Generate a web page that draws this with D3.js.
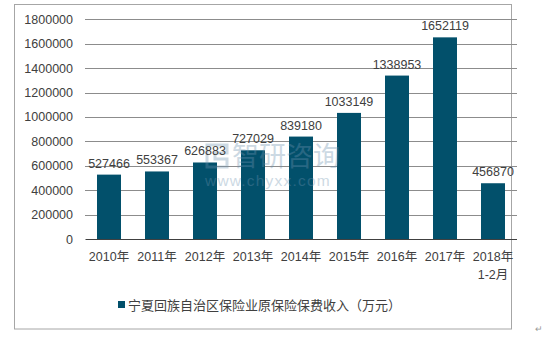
<!DOCTYPE html>
<html>
<head>
<meta charset="utf-8">
<script src="https://cdn.jsdelivr.net/npm/d3@7"></script>
<style>
html,body{margin:0;padding:0;background:#fff;}
svg{display:block;}
text{font-family:"Liberation Sans",Arial,"Noto Sans CJK SC",sans-serif;}
</style>
</head>
<body>
<script>
const categories = ["2010年","2011年","2012年","2013年","2014年","2015年","2016年","2017年","2018年\n1-2月"];
const values = [527466, 553367, 626883, 727029, 839180, 1033149, 1338953, 1652119, 456870];
const yTicks = [0,200000,400000,600000,800000,1000000,1200000,1400000,1600000,1800000];
const seriesName = "宁夏回族自治区保险业原保险保费收入（万元）";

const W = 548, H = 337;
const svg = d3.select("body").append("svg").attr("width", W).attr("height", H);

// frame
svg.append("rect").attr("x",14.5).attr("y",4.5).attr("width",497).attr("height",324.5)
  .attr("fill","none").attr("stroke","#a6a6a6").attr("stroke-width",1);

const x = d3.scaleBand().domain(categories).range([85,517]).paddingInner(0.5).paddingOuter(0.25);
const y = d3.scaleLinear().domain([0,1800000]).range([239,19.3]);

// gridlines
svg.append("g").selectAll("line").data(yTicks.filter(d=>d>0)).join("line")
  .attr("x1",85).attr("x2",517)
  .attr("y1",d=>Math.round(y(d))+0.5).attr("y2",d=>Math.round(y(d))+0.5)
  .attr("stroke","#8c8c8c").attr("stroke-width",1);

// y axis labels
const yAxis = d3.axisLeft(y).tickValues(yTicks).tickSize(0).tickPadding(12).tickFormat(d=>String(d));
const gy = svg.append("g").attr("transform","translate(85,0)").call(yAxis);
gy.select(".domain").remove();
gy.selectAll("text").attr("font-size","12.5px").attr("fill","#404040")
  .style("font-family",'"Liberation Sans",Arial,sans-serif');

// bars
svg.append("g").selectAll("rect").data(values).join("rect")
  .attr("x",(d,i)=>x(categories[i]))
  .attr("width",x.bandwidth())
  .attr("y",d=>y(d))
  .attr("height",d=>y(0)-y(d))
  .attr("fill","#02506b");

// watermark
const wm = svg.append("g").attr("opacity",0.35);
wm.append("path").attr("d","M207,145h20v8h-12v6h12v8h-20z").attr("fill","none")
  .attr("stroke","#6f93b0").attr("stroke-width",3);
wm.append("text").attr("x",232).attr("y",166).attr("font-size","27px").attr("fill","#6f93b0")
  .style("font-family",'"Noto Sans CJK SC",sans-serif').text("智研咨询");
wm.append("text").attr("x",205).attr("y",186).attr("font-size","15.5px").attr("fill","#6f93b0")
  .attr("letter-spacing","1.2px").text("www.chyxx.com");

// value labels
svg.append("g").selectAll("text").data(values).join("text")
  .attr("x",(d,i)=>x(categories[i])+x.bandwidth()/2)
  .attr("y",d=>y(d)-7)
  .attr("text-anchor","middle").attr("font-size","12.5px").attr("fill","#404040")
  .text(d=>d);

// x axis
const xAxis = d3.axisBottom(x).tickSize(0).tickPadding(0).tickFormat("");
const gx = svg.append("g").attr("transform","translate(0,239)").call(xAxis);
gx.select(".domain").attr("stroke","#404040").attr("d","M85.5,0.5H517");
const labels = svg.append("g").selectAll("text").data(categories).join("text")
  .attr("x",d=>x(d)+x.bandwidth()/2)
  .attr("y",261)
  .attr("text-anchor","middle").attr("font-size","12.5px").attr("fill","#404040");
labels.each(function(d){
  const parts = d.split("\n");
  const t = d3.select(this);
  parts.forEach((p,i)=>{
    t.append("tspan").attr("x",+t.attr("x")).attr("dy",i===0?0:18).text(p);
  });
});

// legend
svg.append("rect").attr("x",118).attr("y",301).attr("width",7).attr("height",7).attr("fill","#02506b");
svg.append("text").attr("x",128).attr("y",310).attr("font-size","13px").attr("fill","#404040")
  .style("font-family",'"Noto Sans CJK SC",sans-serif').text(seriesName);

// paragraph mark
svg.append("text").attr("x",535).attr("y",332).attr("font-size","9px").attr("fill","#999").text("↵");
</script>
</body>
</html>
